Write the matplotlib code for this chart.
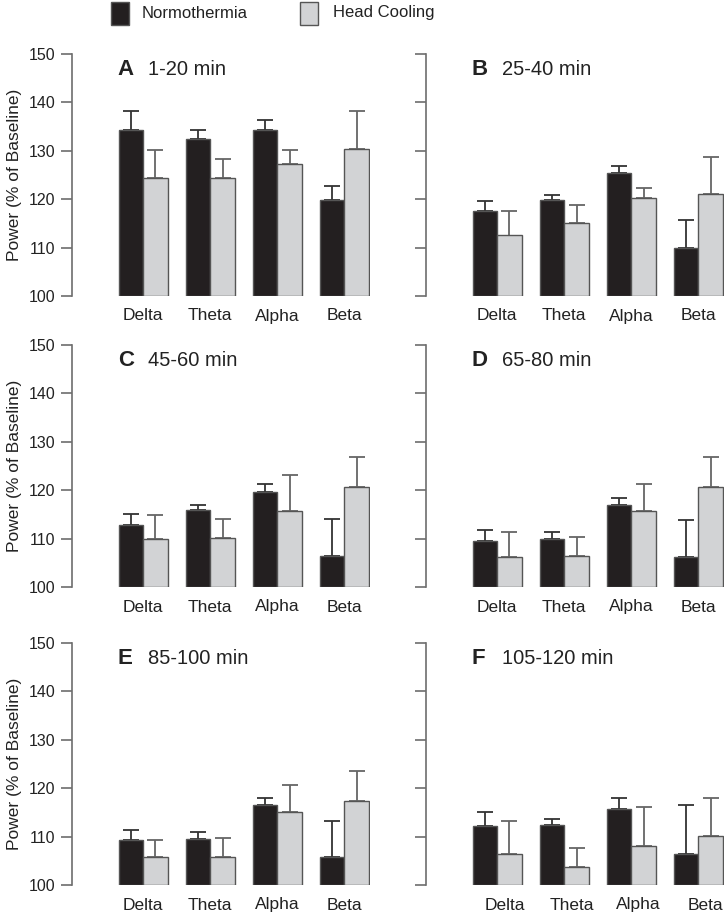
import matplotlib.pyplot as plt
import numpy as np

plt.rcParams['font.family'] = ['Liberation Sans', 'DejaVu Sans']

bands = ['Delta', 'Theta', 'Alpha', 'Beta']
panel_letters = ['A', 'B', 'C', 'D', 'E', 'F']
panel_times = ['1-20 min', '25-40 min', '45-60 min', '65-80 min', '85-100 min', '105-120 min']

# mean values (% of baseline) and upper SEM for each panel
normo_mean = [
    [134.3, 132.4, 134.3, 119.8],
    [117.6, 119.8, 125.5, 110.0],
    [112.8, 116.0, 119.6, 106.4],
    [109.6, 109.9, 117.0, 106.3],
    [109.2, 109.5, 116.5, 105.8],
    [112.2, 112.3, 115.8, 106.5],
]
normo_err = [
    [4.0, 1.9, 2.0, 3.0],
    [2.0, 1.1, 1.4, 5.8],
    [2.2, 0.9, 1.7, 7.6],
    [2.2, 1.4, 1.4, 7.6],
    [2.2, 1.4, 1.4, 7.5],
    [2.8, 1.4, 2.2, 10.0],
]
cool_mean = [
    [124.3, 124.3, 127.2, 130.3],
    [112.5, 115.0, 120.3, 121.0],
    [110.0, 110.2, 115.7, 120.7],
    [106.3, 106.4, 115.6, 120.6],
    [105.8, 105.8, 115.0, 117.3],
    [106.5, 103.7, 108.0, 110.2],
]
cool_err = [
    [5.8, 4.0, 2.9, 8.0],
    [5.1, 3.7, 2.1, 7.8],
    [4.9, 3.9, 7.4, 6.2],
    [5.0, 4.0, 5.6, 6.3],
    [3.4, 3.9, 5.7, 6.2],
    [6.8, 3.9, 8.1, 7.7],
]

black_c = '#231f20'
gray_c = '#d2d3d5'
edge_c = '#555555'
spine_c = '#6d6d6d'
text_c = '#222222'

fig = plt.figure(figsize=(7.24, 9.17), dpi=100)

lefts = [72 / 724, 426 / 724]
w = 298 / 724
rows = [(917 - 296) / 917, (917 - 587) / 917, (917 - 885) / 917]
h = 242 / 917

x = np.arange(len(bands))
bw = 0.366

for i in range(6):
    r, c = divmod(i, 2)
    ax = fig.add_axes([lefts[c], rows[r], w, h])
    ax.bar(x - bw / 2, np.array(normo_mean[i]) - 100, bw, bottom=100,
           color=black_c, edgecolor=edge_c, linewidth=1.0, zorder=2)
    ax.bar(x + bw / 2, np.array(cool_mean[i]) - 100, bw, bottom=100,
           color=gray_c, edgecolor=edge_c, linewidth=1.0, zorder=2)
    ax.errorbar(x - bw / 2, normo_mean[i],
                yerr=[np.zeros(4), normo_err[i]], fmt='none',
                ecolor='#333333', elinewidth=1.3, capsize=5.5, capthick=1.3, zorder=1)
    ax.errorbar(x + bw / 2, cool_mean[i],
                yerr=[np.zeros(4), cool_err[i]], fmt='none',
                ecolor='#666666', elinewidth=1.3, capsize=5.5, capthick=1.3, zorder=1)

    ax.set_xlim(-1.06, 3.38)
    ax.set_ylim(100, 150)
    for s in ['top', 'right', 'bottom']:
        ax.spines[s].set_visible(False)
    ax.spines['left'].set_color(spine_c)
    ax.spines['left'].set_linewidth(1.2)
    ax.set_yticks([100, 110, 120, 130, 140, 150])
    ax.tick_params(axis='y', length=8, width=1.2, color=spine_c, pad=4,
                   labelsize=11.5, labelcolor=text_c)
    shift = 0.11 if i == 5 else 0.0
    ax.set_xticks(x + shift)
    ax.set_xticklabels(bands)
    ax.tick_params(axis='x', length=0, pad=9, labelsize=12.5, labelcolor=text_c)
    if c == 0:
        ax.set_ylabel('Power (% of Baseline)', fontsize=12.5, color=text_c, labelpad=5)
    else:
        ax.set_yticklabels([])

    ax.text(0.154, 0.935, panel_letters[i], transform=ax.transAxes,
            fontsize=16, fontweight='bold', va='center', ha='left', color=text_c)
    ax.text(0.255, 0.935, panel_times[i], transform=ax.transAxes,
            fontsize=14.5, va='center', ha='left', color=text_c)

# legend at the top
fig.patches.append(plt.Rectangle((111 / 724, 1 - 25 / 917), 18 / 724, 23 / 917,
                                 transform=fig.transFigure, facecolor=black_c,
                                 edgecolor=edge_c, linewidth=1.0))
fig.text(142 / 724, 1 - 13 / 917, 'Normothermia', fontsize=12, va='center',
         ha='left', color=text_c)
fig.patches.append(plt.Rectangle((300 / 724, 1 - 25 / 917), 18 / 724, 23 / 917,
                                 transform=fig.transFigure, facecolor=gray_c,
                                 edgecolor=edge_c, linewidth=1.0))
fig.text(333 / 724, 1 - 13 / 917, 'Head Cooling', fontsize=12, va='center',
         ha='left', color=text_c)

fig.savefig('out.png', dpi=100)
